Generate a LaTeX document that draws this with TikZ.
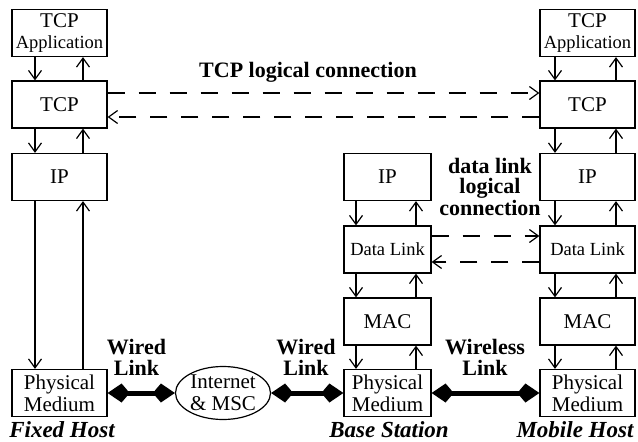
\documentclass[tikz,border=0pt]{standalone}
\usepackage{fontspec}
\setmainfont{Liberation Serif}
\usetikzlibrary{arrows.meta,calc,shapes.geometric}
\newcommand{\smallf}{\fontsize{18.5}{20}\selectfont}
\begin{document}
\begin{tikzpicture}[x=1pt,y=-1pt,
  box/.style={draw, line width=1.2pt, minimum width=95pt, minimum height=47pt, inner sep=0pt, font=\fontsize{21}{22}\selectfont, align=center},
  nbox/.style={box, minimum width=87pt},
  lbl/.style={font=\fontsize{22}{21}\selectfont\bfseries, align=center},
  host/.style={font=\fontsize{23}{24}\selectfont\bfseries\itshape},
  stack/.style={line width=1.2pt, -{Straight Barb[length=9pt,width=13pt]}},
  logic/.style={line width=1.2pt, dash pattern=on 17pt off 14pt, -{Straight Barb[length=9pt,width=13pt]}},
  fat/.style={line width=5pt},
  head/.style={fill=black}
]
\useasboundingbox (0,0) rectangle (638,442);
% Fixed host
\node[box] (fapp) at (59.5,33) {TCP\\[-1pt]{\smallf Application}};
\node[box] (ftcp) at (59.5,104.5) {TCP};
\node[box] (fip)  at (59.5,177) {IP};
\node[box] (fphy) at (59.5,393) {Physical\\Medium};
% Base station
\node[nbox] (bip)  at (387.5,177) {IP};
\node[nbox] (bdl)  at (387.5,249.5) {\smallf Data Link};
\node[nbox] (bmac) at (387.5,321.5) {MAC};
\node[nbox] (bphy) at (387.5,393) {Physical\\Medium};
% Mobile host
\node[box] (mapp) at (587.5,33) {TCP\\[-1pt]{\smallf Application}};
\node[box] (mtcp) at (587.5,104.5) {TCP};
\node[box] (mip)  at (587.5,177) {IP};
\node[box] (mdl)  at (587.5,249.5) {\smallf Data Link};
\node[box] (mmac) at (587.5,321.5) {MAC};
\node[box] (mphy) at (587.5,393) {Physical\\Medium};
% Internet
\node[ellipse, draw, line width=1.2pt, minimum width=95pt, minimum height=53pt, inner sep=0pt, align=center, font=\fontsize{21}{22}\selectfont] (net) at (223,393) {Internet\\\& MSC};
% stack arrows
\foreach \a/\b/\l/\r in {fapp/ftcp/-24.5/23.5, ftcp/fip/-24.5/23.5, fip/fphy/-24.5/23.5,
  bip/bdl/-31.5/28.5, bdl/bmac/-31.5/28.5, bmac/bphy/-31.5/28.5,
  mapp/mtcp/-32.5/28.5, mtcp/mip/-32.5/28.5, mip/mdl/-32.5/28.5, mdl/mmac/-32.5/28.5, mmac/mphy/-32.5/28.5}{
  \draw[stack] ($(\a.south)+(\l,0)$) -- ($(\b.north)+(\l,0)$);
  \draw[stack] ($(\b.north)+(\r,0)$) -- ($(\a.south)+(\r,0)$);
}
% logical connections
\draw[logic] ($(ftcp.east)+(0,-11.5)$) -- ($(mtcp.west)+(0,-11.5)$);
\draw[logic] ($(mtcp.west)+(0,12.5)$) -- ($(ftcp.east)+(0,12.5)$);
\draw[logic] ($(bdl.east)+(0,-13.5)$) -- ($(mdl.west)+(0,-13.5)$);
\draw[logic] ($(mdl.west)+(0,12.5)$) -- ($(bdl.east)+(0,12.5)$);
% physical links (thick double arrows with kite heads)
\foreach \a/\b in {fphy/net, net/bphy, bphy/mphy}{
  \draw[fat] ($(\a.east)+(15,0)$) -- ($(\b.west)+(-15,0)$);
  \fill[head] (\a.east) -- ++(14,-9.5) -- ++(6,7) -- ++(0,5) -- ++(-6,7) -- cycle;
  \fill[head] (\b.west) -- ++(-14,-9.5) -- ++(-6,7) -- ++(0,5) -- ++(6,7) -- cycle;
}
% labels
\node[lbl] (ltcp) at (308,72) {TCP logical connection};
\node[lbl, font=\fontsize{22}{20}\selectfont\bfseries] (ldl) at (490,187) {data link\\logical\\connection};
\node[lbl] (lw1) at (136.5,357) {Wired\\Link};
\node[lbl] (lw2) at (306,357) {Wired\\Link};
\node[lbl] (lwl) at (485,357) {Wireless\\Link};
\node[host] (hf) at (62,430) {Fixed Host};
\node[host] (hb) at (389,430) {Base Station};
\node[host] (hm) at (575,430) {Mobile Host};
\end{tikzpicture}
\end{document}
